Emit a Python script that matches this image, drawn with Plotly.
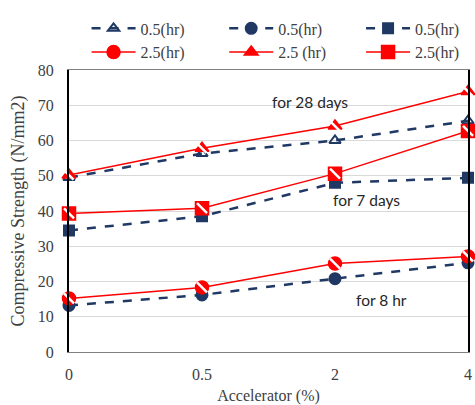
import plotly.graph_objects as go

accelerator = ["0", "0.5", "2", "4"]

# Compressive strength (N/mm2), 0.5 hr mixing
d28_05 = [49.5, 56.3, 60.0, 65.6]
d7_05 = [34.5, 38.5, 48.0, 49.4]
h8_05 = [13.2, 16.2, 20.8, 25.3]

# Compressive strength (N/mm2), 2.5 hr mixing
h8_25 = [15.2, 18.3, 25.1, 27.1]
d28_25 = [50.2, 57.8, 64.1, 73.9]
d7_25 = [39.3, 40.8, 50.6, 62.7]

NAVY = "#1f3864"
RED = "#ff0000"
SERIF = "Liberation Serif, Times New Roman, serif"
GREY_TXT = "#404040"

fig = go.Figure()

# (legend label, values, symbol, size, legend column)
blue_series = [
    ("0.5(hr)", d28_05, "triangle-up-open", 10, "legend"),
    ("0.5(hr)", h8_05, "circle", 11, "legend2"),
    ("0.5(hr)", d7_05, "square", 10, "legend3"),
]
red_series = [
    ("2.5(hr)", h8_25, "circle", 13, "legend"),
    ("2.5 (hr)", d28_25, "triangle-up", 12, "legend2"),
    ("2.5(hr)", d7_25, "square", 13, "legend3"),
]

for i, (name, vals, sym, size, lg) in enumerate(blue_series):
    fig.add_trace(go.Scatter(
        x=accelerator, y=vals, name=name, mode="lines+markers",
        line=dict(color=NAVY, width=2.5, dash="dash"),
        marker=dict(symbol=sym, size=size, color=NAVY,
                    line=dict(color=NAVY, width=2)),
        cliponaxis=False, legend=lg, legendgroup=f"b{i}",
    ))

for i, (name, vals, sym, size, lg) in enumerate(red_series):
    fig.add_trace(go.Scatter(
        x=accelerator, y=vals, name=name, mode="lines+markers",
        line=dict(color=RED, width=1.5),
        marker=dict(symbol=sym, size=size, color=RED,
                    line=dict(color=RED, width=1.5)),
        cliponaxis=False, legend=lg, legendgroup=f"r{i}",
    ))

# white diagonal strokes on the 2.5 hr markers for the hatched look
for name, vals, sym, size, lg in red_series:
    fig.add_trace(go.Scatter(
        x=accelerator, y=vals, mode="markers", showlegend=False,
        hoverinfo="skip",
        marker=dict(symbol="line-nw-open", size=size - 3, color="white",
                    line=dict(color="white", width=2.5)),
        cliponaxis=False,
    ))

# (text, category index, y value, horizontal offset in px)
notes = [("for 28 days", 2, 71.0, -25),
         ("for 7 days", 2, 43.1, 31),
         ("for 8 hr", 3, 14.8, -87)]
for text, xc, yv, dx in notes:
    fig.add_annotation(
        x=xc, y=yv, text=text, showarrow=False, xanchor="center",
        xshift=dx,
        font=dict(family="Lato, Calibri, sans-serif", size=15.5,
                  color="#262626"),
    )

legend_style = dict(
    orientation="v", yanchor="middle", xanchor="left", y=1.105,
    bgcolor="rgba(0,0,0,0)", itemwidth=44, tracegroupgap=0,
    traceorder="grouped",
    font=dict(family=SERIF, size=16, color=GREY_TXT),
)

fig.update_layout(
    width=475, height=405,
    margin=dict(l=69, r=3, t=70, b=49),
    paper_bgcolor="white", plot_bgcolor="white",
    font=dict(family=SERIF, size=16, color=GREY_TXT),
    legend=dict(x=0.044, **legend_style),
    legend2=dict(x=0.389, **legend_style),
    legend3=dict(x=0.732, **legend_style),
    xaxis=dict(
        type="category", range=[0, 3], showgrid=False,
        showline=True, linecolor="#7f7f7f", linewidth=1, mirror=True,
        ticks="", ticklabelstandoff=8,
        tickfont=dict(family=SERIF, size=16, color=GREY_TXT),
        title=dict(text="Accelerator (%)", standoff=8,
                   font=dict(family=SERIF, size=16, color=GREY_TXT)),
    ),
    yaxis=dict(
        range=[0, 80], dtick=10, showgrid=True, gridcolor="#d9d9d9",
        gridwidth=1, zeroline=False,
        showline=True, linecolor="#000000", linewidth=2, mirror=True,
        ticks="", ticklabelstandoff=10,
        tickfont=dict(family=SERIF, size=16, color=GREY_TXT),
        title=dict(text="Compressive Strength (N/mm2)", standoff=8,
                   font=dict(family=SERIF, size=18, color=GREY_TXT)),
    ),
)

fig.write_html("out.html")
